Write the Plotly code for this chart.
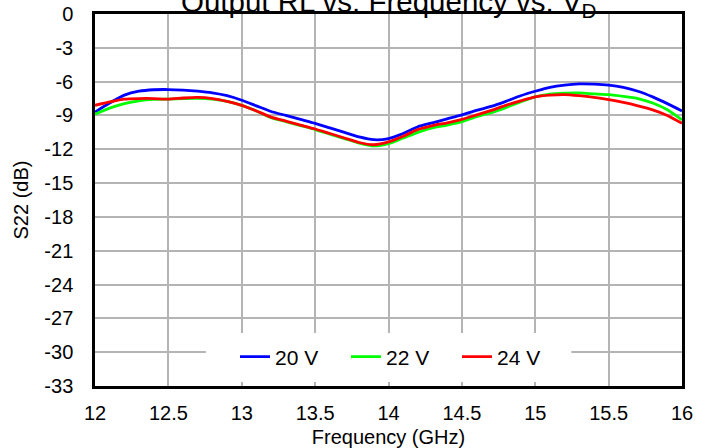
import plotly.graph_objects as go

freq_ghz = [12.0, 12.1, 12.2, 12.3, 12.4, 12.5, 12.6, 12.7, 12.8, 12.9,
            13.0, 13.1, 13.2, 13.3, 13.4, 13.5, 13.6, 13.7, 13.8, 13.9,
            14.0, 14.1, 14.2, 14.3, 14.4, 14.5, 14.6, 14.7, 14.8, 14.9,
            15.0, 15.1, 15.2, 15.3, 15.4, 15.5, 15.6, 15.7, 15.8, 15.9, 16.0]

s22_20v = [-8.7, -7.9, -7.2, -6.85, -6.72, -6.7, -6.75, -6.85, -7.0, -7.25,
           -7.65, -8.15, -8.65, -9.0, -9.35, -9.7, -10.1, -10.5, -10.9, -11.15,
           -11.05, -10.6, -10.0, -9.65, -9.3, -8.95, -8.55, -8.2, -7.75, -7.25,
           -6.85, -6.5, -6.3, -6.2, -6.22, -6.3, -6.5, -6.85, -7.35, -7.95, -8.6]

s22_22v = [-8.9, -8.35, -7.95, -7.7, -7.58, -7.55, -7.5, -7.48, -7.55, -7.75,
           -8.1, -8.6, -9.2, -9.55, -9.9, -10.25, -10.65, -11.05, -11.45, -11.7,
           -11.5, -11.0, -10.5, -10.1, -9.85, -9.55, -9.1, -8.75, -8.3, -7.8,
           -7.35, -7.1, -7.02, -7.0, -7.08, -7.15, -7.3, -7.5, -7.9, -8.5, -9.4]

s22_24v = [-8.1, -7.8, -7.55, -7.5, -7.5, -7.55, -7.45, -7.4, -7.5, -7.75,
           -8.1, -8.6, -9.15, -9.5, -9.85, -10.2, -10.6, -11.0, -11.4, -11.6,
           -11.35, -10.85, -10.25, -9.9, -9.65, -9.35, -8.95, -8.55, -8.1, -7.7,
           -7.35, -7.2, -7.15, -7.25, -7.4, -7.6, -7.85, -8.15, -8.5, -9.0, -9.7]

series_names = ["20 V", "22 V", "24 V"]
series_colors = ["#0000ff", "#00ff00", "#ff0000"]

x_ticks = [12, 12.5, 13, 13.5, 14, 14.5, 15, 15.5, 16]
x_tick_labels = ["12", "12.5", "13", "13.5", "14", "14.5", "15", "15.5", "16"]
y_ticks = [0, -3, -6, -9, -12, -15, -18, -21, -24, -27, -30, -33]
y_tick_labels = ["0", "-3", "-6", "-9", "-12", "-15", "-18", "-21", "-24", "-27", "-30", "-33"]

FONT = "Arial, Liberation Sans, sans-serif"

fig = go.Figure()
for name, ys, col in zip(series_names, [s22_20v, s22_22v, s22_24v], series_colors):
    fig.add_trace(go.Scatter(x=freq_ghz, y=ys, mode="lines", name=name,
                             line=dict(color=col, width=2.8, shape="spline", smoothing=0.6)))

fig.update_layout(
    width=707, height=448,
    margin=dict(l=95, r=25, t=14, b=62),
    paper_bgcolor="white", plot_bgcolor="white",
    font=dict(family=FONT, size=20, color="black"),
    showlegend=True,
    legend=dict(orientation="h", x=0.2385, xanchor="left", y=0.078, yanchor="middle",
                bgcolor="rgba(0,0,0,0)", borderwidth=0, font=dict(size=21),
                itemwidth=30, entrywidth=66, entrywidthmode="pixels"),
    shapes=[dict(type="rect", xref="x", yref="y", x0=12.756, x1=15.246, y0=-32.65, y1=-28.3,
                 fillcolor="white", line=dict(width=0), layer="above")],
    annotations=[dict(text="Output RL vs. Frequency vs. V<sub>D</sub>", xref="paper", yref="paper",
                      x=0.5, y=1, xanchor="center", yanchor="bottom", showarrow=False,
                      font=dict(size=29.5, family=FONT), yshift=-10)],
)

fig.update_xaxes(range=[12, 16], tickvals=x_ticks, ticktext=x_tick_labels,
                 showgrid=True, gridcolor="#b4b4b4", gridwidth=1.5,
                 showline=True, linecolor="black", linewidth=2.5, mirror=True,
                 ticks="", ticklabelstandoff=7, zeroline=False, automargin=False,
                 title=dict(text="Frequency (GHz)", standoff=8, font=dict(size=20)))
fig.update_yaxes(range=[-33, 0], tickvals=y_ticks, ticktext=y_tick_labels,
                 showgrid=True, gridcolor="#b4b4b4", gridwidth=1.5,
                 showline=True, linecolor="black", linewidth=2.5, mirror=True,
                 ticks="", ticklabelstandoff=15, zeroline=False, automargin=False,
                 title=dict(text="S22 (dB)", standoff=11, font=dict(size=20)))

fig.write_html("out.html", config={"displayModeBar": False},
               post_script="document.body.style.margin='0';")
